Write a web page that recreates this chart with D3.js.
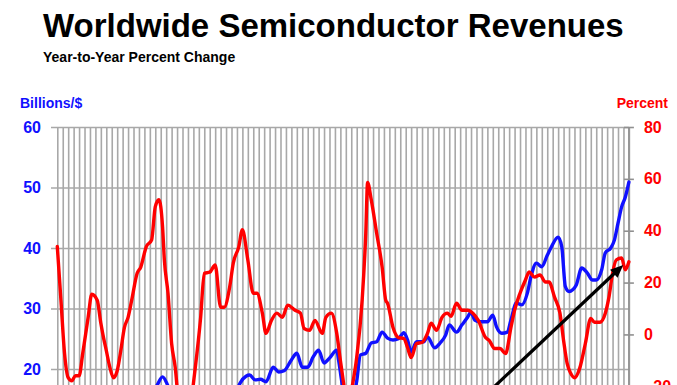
<!DOCTYPE html>
<html>
<head>
<meta charset="utf-8">
<script src="https://cdn.jsdelivr.net/npm/d3@7"></script>
<style>
  html, body { margin: 0; padding: 0; background: #fff; overflow: hidden; }
  svg { display: block; font-family: "Liberation Sans", Arial, sans-serif; }
</style>
</head>
<body>
<svg id="chart" width="677" height="385"></svg>
<script>
// ---- Data (month index from first data month; 3 months per vertical gridline) ----
const revMonth = [0,6,12,18,24,30,36,42,48,52,55,58,61,64,68,72,78,84,90,96,99,101,104,106,109,112,115,119,122,125,129,132,135,138,141,144,147,150,154,155,157,160,163,165,167,170,173,176,179,182,185,188,191,193,195,198,202,204,208,211,214,216,220,223,226,228,230,233,237,240,242,245,248,250,253,256,259,261,264,267,270,272,276,278,280,282,284,286,289,292,295,297,300,302,305,307,309,311,313,315];
const revBillions = [12.0,11.4,11.0,11.5,12.2,11.5,10.5,11.0,12.5,15.3,17.3,18.7,17.2,15,12,10.5,11,12,12,13.8,16.5,17.8,18.8,19.0,18.2,18.3,17.9,20.3,19.5,19.7,21.5,22.6,20.3,20.3,22,23.1,21,21.8,23.1,21.5,17.5,14.5,15.5,18,22.3,22.6,24.3,24.5,26.1,25.1,24.8,25,26,24.8,22.8,24.5,24.5,25.3,23.5,24.3,25.6,27.3,26.1,27.3,28.5,29.4,28.1,27.8,27.8,28.9,27,25.9,26.1,28.1,30.9,30.6,32.5,35.2,37.5,36.9,38.8,40,41.8,40.2,33.6,32.8,33.1,33.9,36.7,35.9,34.7,34.7,36.4,39.2,40,41.3,44.1,46.8,48.4,50.9];

const yoyMonth = [0,2,4,6,8,10,12,14,17,19,22,24,25,27,29,31,33,35,37,39,41,44,46,49,52,54,56,58,59,61,63,65,67,70,72,74,75,79,81,84,87,90,92,95,97,100,102,105,108,110,113,115,118,121,124,127,131,134,136,139,142,146,148,151,154,156,158,160,162,165,168,170,171,173,176,179,181,182,185,188,191,193,195,198,201,204,206,209,212,215,217,220,223,226,229,232,236,238,241,244,247,250,252,255,258,260,263,266,269,271,274,277,279,281,283,285,288,291,294,296,299,302,304,306,308,311,313,315];
const yoyPercent = [33.9,13.2,-7.4,-16.7,-17.9,-15.9,-16,-7.4,6.6,15.5,13.2,4.3,0.4,-6.2,-12.8,-16.7,-14,-6.2,2.7,6.6,13.2,23.6,26,33.8,36.5,49.3,52,41.6,28.7,15.9,-3.5,-12.8,-28,-40,-38,-25,-19,6.6,23.6,24,26.8,10.5,10.5,18.3,27.6,33.8,40.4,28.7,15.9,15.9,8.2,0.4,5.4,8.2,6.6,11.3,9.3,8.2,2.3,1.6,5.4,0.4,6.6,8.2,0.4,-10,-20,-29,-22,-8.9,13.2,39,58.6,52,39,26,13.2,12,2.7,-1.2,-1.6,-5,-8.9,-3.5,-3.1,0.4,4.3,1.6,6.6,8.2,7,12,9.3,9.3,8.2,5.4,-1.2,-2.3,-5.4,-5.4,-7.4,2.7,9.3,15.9,21,24.1,22.1,22.9,20.2,20.2,14.4,8.2,-2.3,-11.3,-15.1,-16.7,-12.8,-3.5,6.2,4.7,4.7,8.2,14.4,23.6,28.7,29.5,24.9,28];

const leftTicks = [0, 10, 20, 30, 40, 50, 60];
const rightTicks = [-60, -40, -20, 0, 20, 40, 60, 80];
const trendArrow = [[182, -59], [311.9, 26.8]]; // [month, percent]

const titleText = "Worldwide Semiconductor Revenues";
const subtitleText = "Year-to-Year Percent Change";
const leftAxisTitle = "Billions/$";
const rightAxisTitle = "Percent";

// ---- Layout ----
const W = 677, H = 385;
const svg = d3.select("#chart");
const X0 = 57.3, X1 = 628.9, YT = 127, YB = 490;
const lastMonth = 315;

const x = d3.scaleLinear().domain([0, lastMonth]).range([X0, X1]);
const yL = d3.scaleLinear().domain([0, 60]).range([YB, YT]);
const yR = d3.scaleLinear().domain([-60, 80]).range([YB, YT]);

const BLUE = "#1010ff", RED = "#ff0000", GRID = "#a8a8a8";

// vertical gridlines every quarter
const quarterTicks = d3.range(0, lastMonth + 1, 3);
svg.append("g")
  .attr("transform", `translate(0,${YT})`)
  .call(d3.axisBottom(x).tickValues(quarterTicks).tickSize(YB - YT).tickFormat(""))
  .call(g => g.select(".domain").remove())
  .call(g => g.selectAll(".tick line").attr("stroke", GRID).attr("stroke-width", 1.6));

// left axis + horizontal gridlines
svg.append("g")
  .attr("transform", `translate(51,0)`)
  .call(d3.axisLeft(yL).tickValues(leftTicks).tickSize(-(X1 - 51)).tickPadding(10).tickFormat(d3.format("d")))
  .call(g => g.select(".domain").remove())
  .call(g => g.selectAll(".tick line").attr("stroke", GRID).attr("stroke-width", 1.6))
  .call(g => g.selectAll(".tick text")
    .attr("fill", BLUE).attr("font-size", 16).attr("font-weight", "bold")
    .attr("font-family", "Liberation Sans, Arial, sans-serif"))
  .call(g => g.selectAll(".tick text").filter(d => yL(d) - 8 > H).remove());

// right axis
svg.append("g")
  .attr("transform", `translate(${X1},0)`)
  .call(d3.axisRight(yR).tickValues(rightTicks).tickSize(5).tickPadding(10).tickFormat(d3.format("d")))
  .call(g => g.select(".domain").attr("stroke", "#909090").attr("stroke-width", 1.6)
      .attr("d", `M0,${YT}V${YB}`))
  .call(g => g.selectAll(".tick line").attr("stroke", "#909090").attr("stroke-width", 1.6).attr("x1", -5))
  .call(g => g.selectAll(".tick text")
    .attr("fill", RED).attr("font-size", 16).attr("font-weight", "bold")
    .attr("font-family", "Liberation Sans, Arial, sans-serif"))
  .call(g => g.selectAll(".tick text").filter(d => yR(d) - 8 > H).remove());

// lines
const revData = revMonth.map((m, i) => [m, revBillions[i]]);
const yoyData = yoyMonth.map((m, i) => [m, yoyPercent[i]]);

svg.append("path")
  .datum(revData)
  .attr("fill", "none").attr("stroke", BLUE).attr("stroke-width", 3.4)
  .attr("stroke-linejoin", "round").attr("stroke-linecap", "round")
  .attr("d", d3.line().x(d => x(d[0])).y(d => yL(d[1])).curve(d3.curveMonotoneX));

svg.append("path")
  .datum(yoyData)
  .attr("fill", "none").attr("stroke", RED).attr("stroke-width", 3.4)
  .attr("stroke-linejoin", "round").attr("stroke-linecap", "round")
  .attr("d", d3.line().x(d => x(d[0])).y(d => yR(d[1])).curve(d3.curveMonotoneX));

// trend arrow
const [a0, a1] = trendArrow.map(p => [x(p[0]), yR(p[1])]);
const ang = Math.atan2(a1[1] - a0[1], a1[0] - a0[0]);
const headLen = 13, headW = 5.5;
const base = [a1[0] - headLen * Math.cos(ang), a1[1] - headLen * Math.sin(ang)];
svg.append("line")
  .attr("x1", a0[0]).attr("y1", a0[1]).attr("x2", base[0] + 2 * Math.cos(ang)).attr("y2", base[1] + 2 * Math.sin(ang))
  .attr("stroke", "#000").attr("stroke-width", 3.2);
svg.append("path")
  .attr("fill", "#000")
  .attr("d", `M${a1[0]},${a1[1]}L${base[0] - headW * Math.sin(ang)},${base[1] + headW * Math.cos(ang)}L${base[0] + headW * Math.sin(ang)},${base[1] - headW * Math.cos(ang)}Z`);

// titles
svg.append("text").attr("x", 43).attr("y", 37)
  .attr("font-size", 33).attr("font-weight", "bold").attr("fill", "#000")
  .text(titleText);
svg.append("text").attr("x", 43).attr("y", 62)
  .attr("font-size", 14).attr("font-weight", "bold").attr("fill", "#000")
  .text(subtitleText);
svg.append("text").attr("x", 20).attr("y", 108)
  .attr("font-size", 14).attr("font-weight", "bold").attr("fill", BLUE)
  .text(leftAxisTitle);
svg.append("text").attr("x", 668).attr("y", 108).attr("text-anchor", "end")
  .attr("font-size", 14).attr("font-weight", "bold").attr("fill", RED)
  .text(rightAxisTitle);
</script>
</body>
</html>
